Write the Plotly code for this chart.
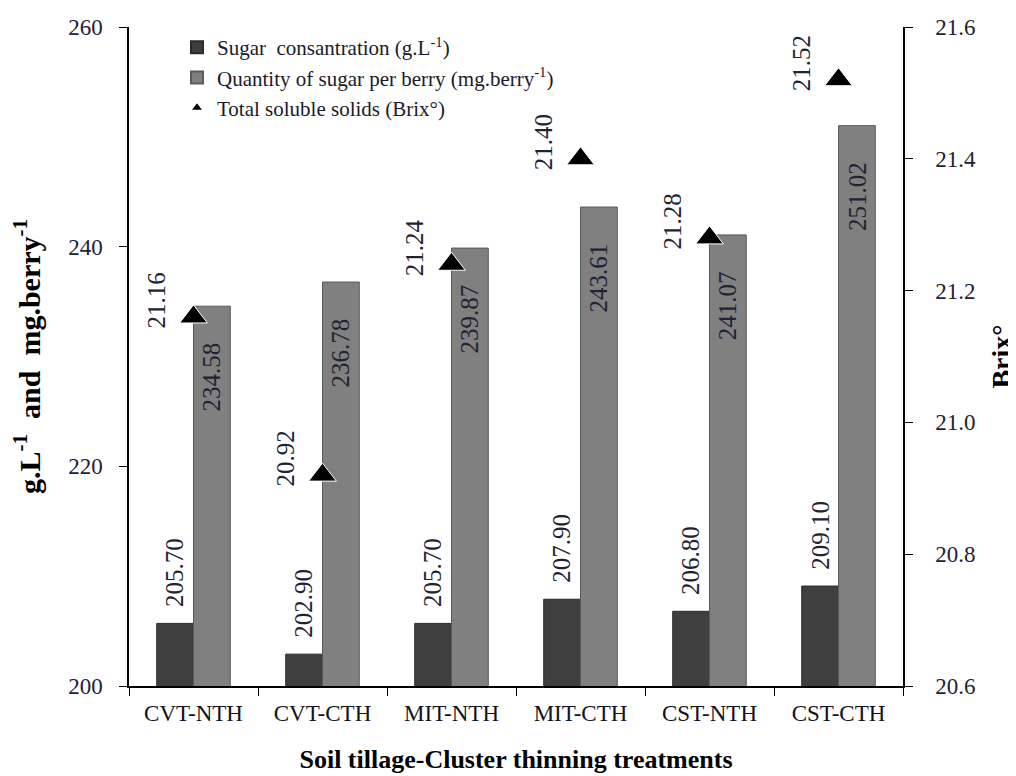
import plotly.graph_objects as go

categories = ["CVT-NTH", "CVT-CTH", "MIT-NTH", "MIT-CTH", "CST-NTH", "CST-CTH"]
sugar_conc = [205.70, 202.90, 205.70, 207.90, 206.80, 209.10]
sugar_berry = [234.58, 236.78, 239.87, 243.61, 241.07, 251.02]
brix = [21.16, 20.92, 21.24, 21.40, 21.28, 21.52]

FONT = "Liberation Serif"
TXT = "#222233"
LBL = 25          # rotated data label size
HALF = 18.4       # half bar width in px (for label offsets)

fig = go.Figure()
fig.add_trace(go.Bar(
    x=categories, y=sugar_conc, name="Sugar  consantration (g.L<sup>-1</sup>)",
    marker=dict(color="#3f3f3f", line=dict(color="#2a2a2a", width=1)),
))
fig.add_trace(go.Bar(
    x=categories, y=sugar_berry, name="Quantity of sugar per berry (mg.berry<sup>-1</sup>)",
    marker=dict(color="#808080", line=dict(color="#5a5a5a", width=1)),
))
fig.add_trace(go.Scatter(
    x=categories, y=brix, yaxis="y2", mode="markers", name="Total soluble solids (Brix°)",
    marker=dict(symbol="triangle-up", size=24, color="black", line=dict(color="white", width=1)),
))

for c, v in zip(categories, sugar_conc):
    fig.add_annotation(
        x=c, y=v, text=f"{v:.2f}", textangle=-90, showarrow=False,
        xanchor="center", yanchor="bottom", xshift=-HALF, yshift=14,
        font=dict(family=FONT, size=LBL, color=TXT),
    )
for c, v in zip(categories, sugar_berry):
    fig.add_annotation(
        x=c, y=v, text=f"{v:.2f}", textangle=-90, showarrow=False,
        xanchor="center", yanchor="top", xshift=HALF, yshift=-34,
        font=dict(family=FONT, size=LBL, color=TXT),
    )
for c, b in zip(categories, brix):
    fig.add_annotation(
        x=c, y=b, yref="y2", text=f"{b:.2f}", textangle=-90, showarrow=False,
        xanchor="center", yanchor="bottom", xshift=-37, yshift=-14,
        font=dict(family=FONT, size=LBL, color=TXT),
    )

fig.update_layout(
    width=1016, height=776,
    margin=dict(l=121, r=121, t=19, b=98),
    plot_bgcolor="white", paper_bgcolor="white",
    barmode="group", bargap=0.43, bargroupgap=0,
    font=dict(family=FONT, size=22, color=TXT),
    showlegend=True,
    legend=dict(x=0.062, y=1.0, xanchor="left", yanchor="top",
                bgcolor="rgba(0,0,0,0)",
                font=dict(family=FONT, size=21, color="#1a1a2a"), tracegroupgap=0,
                itemsizing="constant"),
    xaxis=dict(
        automargin=False,
        showline=True, linecolor="black", linewidth=1.5, ticks="outside", ticklen=8,
        tickcolor="black", tickson="boundaries", showgrid=False, ticklabelstandoff=6,
        tickfont=dict(family=FONT, size=23, color="#111122"),
        title=dict(text="<b>Soil tillage-Cluster thinning treatments</b>",
                   font=dict(family=FONT, size=26, color="black"), standoff=24),
    ),
    yaxis=dict(
        automargin=False,
        range=[200, 260], dtick=20, showline=True, linecolor="black", linewidth=1.5,
        ticks="outside", ticklen=8, tickcolor="black", showgrid=False, zeroline=False,
        ticklabelstandoff=12,
        tickfont=dict(family=FONT, size=23, color=TXT),
        title=dict(text="<b>g.L<sup>-1</sup>  and  mg.berry<sup>-1</sup></b>",
                   font=dict(family=FONT, size=30, color="black"), standoff=24),
    ),
    yaxis2=dict(
        automargin=False,
        range=[20.6, 21.6], dtick=0.2, tickformat=".1f", overlaying="y", side="right",
        showline=True, linecolor="black", linewidth=1.5, ticks="outside", ticklen=8,
        tickcolor="black", showgrid=False, zeroline=False, ticklabelstandoff=18,
        tickfont=dict(family=FONT, size=23, color=TXT),
        title=dict(text="<b>Brix°</b>", font=dict(family=FONT, size=28, color="black"), standoff=16),
    ),
)

fig.write_html("out.html")
